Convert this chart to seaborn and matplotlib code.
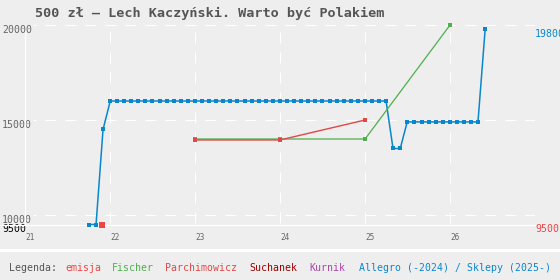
import matplotlib
matplotlib.use("Agg")
import matplotlib.pyplot as plt
import seaborn as sns
import pandas as pd
from matplotlib.patches import Rectangle

# ---------------- data ----------------
title = "500 zł – Lech Kaczyński. Warto być Polakiem"

allegro_months = [
    "2021-10", "2021-11", "2021-12",
    "2022-01", "2022-02", "2022-03", "2022-04", "2022-05", "2022-06",
    "2022-07", "2022-08", "2022-09", "2022-10", "2022-11", "2022-12",
    "2023-01", "2023-02", "2023-03", "2023-04", "2023-05", "2023-06",
    "2023-07", "2023-08", "2023-09", "2023-10", "2023-11", "2023-12",
    "2024-01", "2024-02", "2024-03", "2024-04", "2024-05", "2024-06",
    "2024-07", "2024-08", "2024-09", "2024-10", "2024-11", "2024-12",
    "2025-01", "2025-02", "2025-03", "2025-04", "2025-05", "2025-06",
    "2025-07", "2025-08", "2025-09", "2025-10", "2025-11", "2025-12",
    "2026-01", "2026-02", "2026-03", "2026-04", "2026-05", "2026-06",
]
allegro_values = [
    9500, 9500, 14500,
    16000, 16000, 16000, 16000, 16000, 16000,
    16000, 16000, 16000, 16000, 16000, 16000,
    16000, 16000, 16000, 16000, 16000, 16000,
    16000, 16000, 16000, 16000, 16000, 16000,
    16000, 16000, 16000, 16000, 16000, 16000,
    16000, 16000, 16000, 16000, 16000, 16000,
    16000, 16000, 16000, 16000, 13500, 13500,
    14900, 14900, 14900, 14900, 14900, 14900,
    14900, 14900, 14900, 14900, 14900, 19800,
]

fischer_dates = ["2023-01", "2024-01", "2025-01", "2026-01"]
fischer_values = [14000, 14000, 14000, 20000]

parch_dates = ["2023-01", "2024-01", "2025-01"]
parch_values = [13950, 13950, 15000]

emisja_dates = ["2021-11-27"]
emisja_values = [9500]

x_ticks = [21, 22, 23, 24, 25, 26]
x_tick_labels = ["21", "22", "23", "24", "25", "26"]
y_ticks = [9500, 10000, 15000, 20000]
y_tick_labels = ["9500", "10000", "15000", "20000"]
right_ticks = [19800, 9500]
right_tick_labels = ["19800", "9500"]

legend_items = ["emisja", "Fischer", "Parchimowicz", "Suchanek", "Kurnik",
                "Allegro (-2024) / Sklepy (2025-)"]

# ---------------- style ----------------
BG = "#eeeeee"
BLUE = "#0a86cc"
GREEN = "#4cb04c"
RED = "#ee4444"
PARCH = "#e04848"
SUCH = "#990000"
KURN = "#aa44aa"
GREY = "#666666"
legend_colors = [RED, GREEN, PARCH, SUCH, KURN, BLUE]
legend_x = [65, 111.7, 164.7, 249.3, 309.3, 359.3]

sns.set_theme(style="white")
plt.rcParams['font.family'] = ['DejaVu Sans Mono', 'DejaVu Sans']


def to_x(dates):
    d = pd.to_datetime(pd.Series(dates))
    days = 365 + d.dt.is_leap_year.astype(int)
    return list(d.dt.year - 2000 + (d.dt.dayofyear - 1) / days)


W, H = 560, 280
fig = plt.figure(figsize=(W / 100, H / 100), dpi=100, facecolor=BG)
ax_left, ax_right, ax_bottom, ax_top = 25.3, 535.0, 224.5, 20.0
ax = fig.add_axes([ax_left / W, (H - ax_bottom) / H,
                   (ax_right - ax_left) / W, (ax_bottom - ax_top) / H])
ax.set_facecolor(BG)
ax.set_xlim(21, 27)
ax.set_ylim(9500, 20263)
for s in ax.spines.values():
    s.set_visible(False)

# grid
for v in [10000, 15000, 20000]:
    ax.axhline(v, xmin=0.015, xmax=1, color="white", lw=0.72,
               ls=(8, (11, 9)), zorder=1)
ax.axhline(9500, xmin=-ax_left / (ax_right - ax_left), xmax=1, color="white",
           lw=0.9, clip_on=False, zorder=1)
ax.vlines([22, 23, 24, 25, 26], 19630, 9500, color="white", lw=0.72,
          linestyles=[(0, (11, 9))], zorder=1)
ax.vlines([21], 19630, 9500, color="white", lw=0.9, zorder=1)

# series
sns.lineplot(x=to_x(allegro_months), y=allegro_values, ax=ax, color=BLUE,
             lw=1.1, marker="s", markersize=2.8, markeredgewidth=0,
             zorder=3, clip_on=False)
sns.lineplot(x=to_x(fischer_dates), y=fischer_values, ax=ax, color=GREEN,
             lw=0.9, marker="s", markersize=3.2, markeredgewidth=0,
             zorder=4, clip_on=False)
sns.lineplot(x=to_x(parch_dates), y=parch_values, ax=ax, color=PARCH,
             lw=1.0, marker="s", markersize=3.0, markeredgewidth=0,
             zorder=5, clip_on=False)
sns.scatterplot(x=to_x(emisja_dates), y=emisja_values, ax=ax, color=RED,
                marker="s", s=14, linewidth=0, zorder=6, clip_on=False)
ax.set_xlabel("")
ax.set_ylabel("")

# ticks
ax.set_xticks(x_ticks)
ax.set_xticklabels(x_tick_labels, fontsize=5.6, color=GREY, ha="left")
ax.tick_params(axis="x", length=0, pad=6.3)
ax.set_yticks(y_ticks)
ax.set_yticklabels(y_tick_labels, fontsize=7.1, ha="left", va="top")
ax.tick_params(axis="y", length=0, pad=16.8)
for lab in ax.get_yticklabels():
    lab.set_color("black" if lab.get_text() == "9500" else GREY)

ax2 = ax.twinx()
ax2.set_ylim(ax.get_ylim())
for s in ax2.spines.values():
    s.set_visible(False)
ax2.set_yticks(right_ticks)
ax2.set_yticklabels(right_tick_labels, fontsize=7.1, va="top")
ax2.tick_params(axis="y", length=0, pad=0)
for lab, c in zip(ax2.get_yticklabels(), [BLUE, RED]):
    lab.set_color(c)
ax2.grid(False)

# title
fig.text(35 / W, (H - 16.7) / H, title, fontsize=9.7, fontweight="bold",
         color="#555555", va="baseline", ha="left")

# legend band
fig.add_artist(Rectangle((0, (H - 252) / H), 1, 3 / H,
                         transform=fig.transFigure, color="white", lw=0))
fig.text(9.3 / W, (H - 270.7) / H, "Legenda:", fontsize=7.1, color="#555555",
         va="baseline", ha="left")
for txt, c, xp in zip(legend_items, legend_colors, legend_x):
    fig.text(xp / W, (H - 270.7) / H, txt, fontsize=7.1, color=c,
             va="baseline", ha="left")

fig.savefig("out.png", dpi=100, facecolor=BG)
